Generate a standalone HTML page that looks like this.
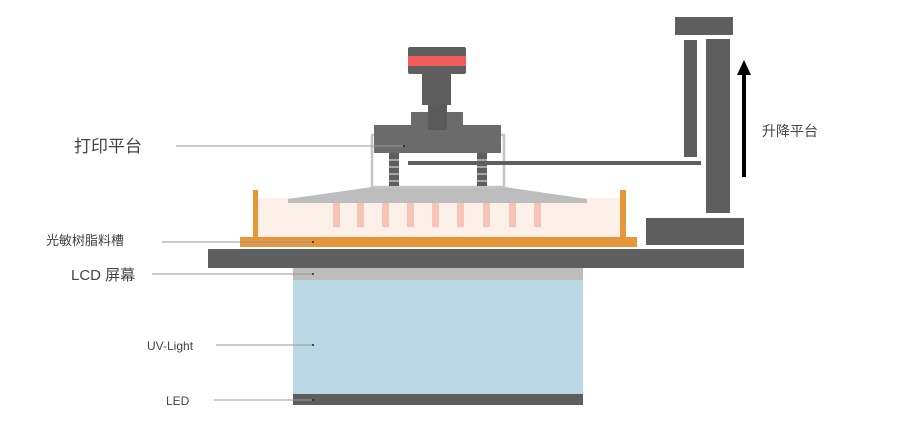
<!DOCTYPE html>
<html><head><meta charset="utf-8"><style>
html,body{margin:0;padding:0;background:#fff;}
svg{display:block;}
text{font-family:"Liberation Sans","Noto Sans CJK SC",sans-serif;fill:#444;}
</style></head><body>
<svg width="922" height="434" viewBox="0 0 922 434" xmlns="http://www.w3.org/2000/svg">
<rect width="922" height="434" fill="#fff"/>
<!-- resin -->
<rect x="258" y="198" width="362" height="39" fill="#fdf0e8"/>
<!-- pink bars -->
<g fill="#f6c3b4">
<rect x="333" y="203" width="7" height="24"/><rect x="357" y="203" width="7" height="24"/>
<rect x="382" y="203" width="7" height="24"/><rect x="407" y="203" width="7" height="24"/>
<rect x="432" y="203" width="7" height="24"/><rect x="457" y="203" width="7" height="24"/>
<rect x="483" y="203" width="7" height="24"/><rect x="509" y="203" width="7" height="24"/>
<rect x="534" y="203" width="7" height="24"/>
</g>
<!-- build plate -->
<polygon points="288,203 288,199 372,187 505,187 587,199 587,203" fill="#bdbdbd"/>
<!-- frame -->
<rect x="372" y="135" width="132" height="52" fill="none" stroke="#c4c4c4" stroke-width="2.5"/>
<!-- springs -->
<g fill="#5e5e5e">
<rect x="389" y="153" width="10" height="33"/>
<rect x="477" y="153" width="10" height="33"/>
</g>
<g stroke="#fff" stroke-width="1.5" opacity="0.6">
<line x1="387" y1="160" x2="401" y2="160"/><line x1="387" y1="167" x2="401" y2="167"/><line x1="387" y1="174" x2="401" y2="174"/><line x1="387" y1="181" x2="401" y2="181"/>
<line x1="475" y1="160" x2="489" y2="160"/><line x1="475" y1="167" x2="489" y2="167"/><line x1="475" y1="174" x2="489" y2="174"/><line x1="475" y1="181" x2="489" y2="181"/>
</g>
<!-- carriage -->
<rect x="374" y="125" width="127" height="28" fill="#6b6b6b"/>
<rect x="411" y="112" width="52" height="18" fill="#6b6b6b"/>
<rect x="428" y="103" width="19" height="27" fill="#5a5a5a"/>
<rect x="422" y="73" width="29" height="32" fill="#5e5e5e"/>
<rect x="408" y="47" width="58" height="27" rx="2" fill="#5e5e5e"/>
<rect x="408" y="56" width="58" height="10" fill="#f45b5b"/>
<!-- arm -->
<rect x="408" y="161" width="293" height="4" fill="#5e5e5e"/>
<!-- tower -->
<rect x="675" y="17" width="58" height="18" fill="#5e5e5e"/>
<rect x="684" y="40" width="13" height="117" fill="#5e5e5e"/>
<rect x="706" y="39" width="24" height="174" fill="#5e5e5e"/>
<rect x="646" y="218" width="98" height="27" fill="#5e5e5e"/>
<!-- arrow -->
<rect x="742" y="72" width="4" height="105" fill="#000"/>
<polygon points="744,60 737,75 751,75" fill="#000"/>
<!-- tank -->
<rect x="253" y="190" width="5" height="50" fill="#e8963c"/>
<rect x="620" y="190" width="6" height="50" fill="#e8963c"/>
<rect x="240" y="237" width="397" height="10" fill="#e8963c"/>
<!-- base -->
<rect x="208" y="249" width="536" height="19" fill="#5e5e5e"/>
<!-- LCD / UV / LED -->
<rect x="293" y="268" width="290" height="12" fill="#bdbdbd"/>
<rect x="293" y="280" width="290" height="115" fill="#bbd9e5"/>
<rect x="293" y="394" width="290" height="11" fill="#5e5e5e"/>
<!-- leader lines -->
<g stroke="#999" stroke-width="1">
<line x1="176" y1="146" x2="404" y2="146"/>
<line x1="162" y1="242" x2="313" y2="242"/>
<line x1="152" y1="274" x2="313" y2="274"/>
<line x1="216" y1="345" x2="313" y2="345"/>
<line x1="214" y1="400" x2="313" y2="400"/>
</g>
<g fill="#222">
<circle cx="404" cy="146" r="1"/><circle cx="313" cy="242" r="1"/><circle cx="313" cy="274" r="1"/>
<circle cx="313" cy="345" r="1"/><circle cx="313" cy="400" r="1"/>
</g>
<!-- labels -->
<text x="74" y="152" font-size="17">打印平台</text>
<text x="46" y="245" font-size="13">光敏树脂料槽</text>
<text x="71" y="280" font-size="15">LCD 屏幕</text>
<text x="147" y="350" font-size="12">UV-Light</text>
<text x="166" y="405" font-size="12">LED</text>
<text x="762" y="136" font-size="14">升降平台</text>
</svg>
</body></html>
